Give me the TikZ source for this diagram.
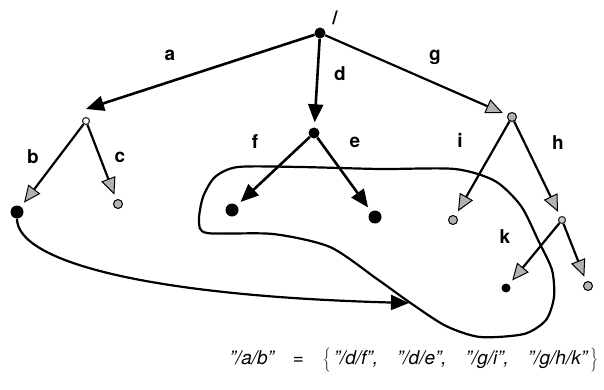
\documentclass[tikz,border=0pt]{standalone}
\usepackage{fontspec}
\setmainfont{TeX Gyre Heros}
\usetikzlibrary{arrows.meta}

\begin{document}
\begin{tikzpicture}[
    x=1pt, y=-1pt,
    blackdot/.style={circle, fill=black, inner sep=0pt, minimum size=11pt},
    greydot/.style={circle, draw=black, line width=1pt, fill=gray!60, inner sep=0pt, minimum size=9pt},
    opendot/.style={circle, draw=black!80, line width=1.2pt, fill=white, inner sep=0pt, minimum size=7pt},
    lab/.style={font=\fontsize{19}{22}\selectfont\bfseries, inner sep=0pt},
    arr/.style={-{Triangle[length=18pt,width=15pt]}, line width=2.6pt, shorten >=5pt},
    garr/.style={-{Triangle[length=17pt,width=15pt,line width=1pt,fill=gray!60]}, line width=2.2pt, shorten >=5pt},
    loop/.style={line width=2.2pt, line join=round},
]
\useasboundingbox (0,0) rectangle (604,390);

% tree nodes
\node[blackdot] (root) at (320,33) {};
\node[opendot]  (na) at (86,121) {};
\node[blackdot] (nd) at (314,133) {};
\node[greydot]  (ng) at (512,117) {};
\node[blackdot, minimum size=13pt] (nb) at (17,212) {};
\node[greydot]  (nc) at (118,204) {};
\node[blackdot, minimum size=13pt] (nf) at (232,210) {};
\node[blackdot, minimum size=13pt] (ne) at (375,217) {};
\node[greydot]  (ni) at (453,220) {};
\node[opendot, fill=gray!40] (nh) at (562,220) {};
\node[blackdot, minimum size=9pt] (nk) at (506,288) {};
\node[greydot, minimum size=9pt]  (nj) at (588,286) {};

% edge labels
\node[lab] (lroot) at (335,18) {/};
\node[lab] (la) at (170,55) {a};
\node[lab] (ld) at (340,74) {d};
\node[lab] (lg) at (435,57) {g};
\node[lab] (lb) at (33,157) {b};
\node[lab] (lc) at (120,157) {c};
\node[lab] (lf) at (255,142) {f};
\node[lab] (le) at (355,142) {e};
\node[lab] (li) at (460,140) {i};
\node[lab] (lh) at (558,143) {h};
\node[lab] (lk) at (505,237) {k};

% edges
\draw[arr, shorten >=0pt] (root) -- ([yshift=12pt]na.center);
\draw[arr]  (root) -- (nd);
\draw[garr] (root) -- (ng);
\draw[garr] (na) -- (nb);
\draw[garr] (na) -- (nc);
\draw[arr]  (nd) -- (nf);
\draw[arr]  (nd) -- (ne);
\draw[garr] (ng) -- (ni);
\draw[garr] (ng) -- (nh);
\draw[garr] (nh) -- (nk);
\draw[garr] (nh) -- (nj);

% the set of targets
\draw[loop] plot[smooth cycle, tension=0.45] coordinates {
    (238,167) (300,167) (380,169) (455,169) (495,181) (521,206)
    (539,242) (552,270) (554,297) (546,320) (524,334) (480,337)
    (446,326) (412,304) (377,279) (330,247) (273,234) (207,233)
    (199,221) (203,197) (215,177)};

% link from /a/b into the set
\coordinate (hit) at (409,303);
\draw[arr, shorten >=0pt, line width=2.2pt] (nb.south) .. controls (17,262) and (150,296) .. (hit);

\node[font=\fontsize{19}{22}\selectfont\itshape, inner sep=0pt, anchor=east] (eq) at (598,360)
    {"/a/b"\quad=\quad$\Bigg\{$\,"/d/f",\quad"/d/e",\quad"/g/i",\quad"/g/h/k"\,$\Bigg\}$};
\end{tikzpicture}
\end{document}
